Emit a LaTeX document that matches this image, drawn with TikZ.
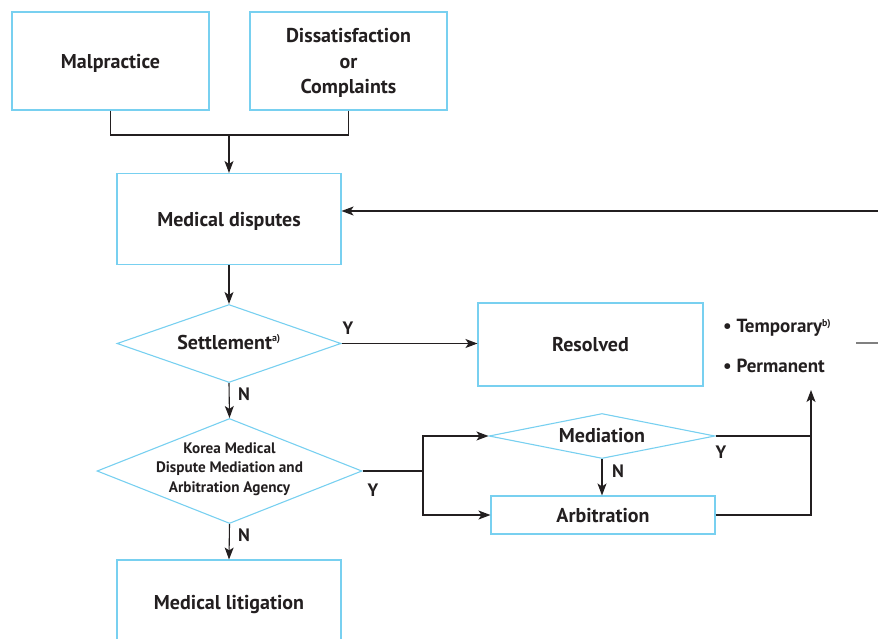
\documentclass[tikz,border=0pt]{standalone}
\usepackage{fontspec}
\setmainfont{PT Sans}
\usetikzlibrary{shapes.geometric,arrows.meta}
\definecolor{boxblue}{RGB}{120,208,240}
\definecolor{ink}{RGB}{35,31,32}
\tikzset{
  box/.style={draw=boxblue, line width=1.1pt, rectangle, inner sep=0pt, text=ink,
     font=\fontsize{20}{25.5}\selectfont\bfseries, align=center, text depth=0pt},
  dia/.style={draw=boxblue, line width=1.1pt, diamond, inner sep=0pt},
  lbl/.style={text=ink, font=\fontsize{20}{25}\selectfont\bfseries, inner sep=0pt, text depth=0pt},
  yn/.style={text=ink, font=\fontsize{18}{22}\selectfont\bfseries, inner sep=0pt},
  conn/.style={draw=ink, line width=1.1pt},
  arr/.style={conn, -{Stealth[length=12pt,width=9pt,inset=3pt]}},
}
\begin{document}
\begin{tikzpicture}[x=1pt,y=-1pt]
\useasboundingbox (0,0) rectangle (878,638);
\clip (0,0) rectangle (878,638);
% boxes
\node[box, minimum width=197pt, minimum height=98pt] (mal) at (110.5,61) {Malpractice};
\node[box, minimum width=197pt, minimum height=98pt] (dis) at (348.5,61) {Dissatisfaction\\or\\Complaints};
\node[box, minimum width=224pt, minimum height=91pt] (md) at (229,219) {Medical disputes};
\node[dia, minimum width=224pt, minimum height=78pt] (set) at (229,343.5) {};
\node[lbl] (settxt) at (229,342) {Settlement\textsuperscript{\fontsize{10}{10}\selectfont a)}};
\node[box, minimum width=225pt, minimum height=83pt] (res) at (590.5,344.5) {Resolved};
\node[lbl, anchor=west, align=left, font=\fontsize{19}{40}\selectfont\bfseries] (outc) at (723,346) {• Temporary\textsuperscript{\fontsize{10}{10}\selectfont b)}\\• Permanent};
\node[dia, minimum width=265pt, minimum height=105pt] (kma) at (229.5,471) {};
\node[text=ink, font=\fontsize{15.2}{19.5}\selectfont\bfseries, align=center, inner sep=0pt] (kmatxt) at (229.5,469) {Korea Medical\\Dispute Mediation and\\Arbitration Agency};
\node[dia, minimum width=226pt, minimum height=45pt] (med) at (602,436) {};
\node[lbl] (medtxt) at (602,435) {Mediation};
\node[box, minimum width=224pt, minimum height=38pt] (arb) at (603,515) {Arbitration};
\node[box, minimum width=224pt, minimum height=100pt] (lit) at (229,610) {};
\node[lbl] (littxt) at (229,602) {Medical litigation};
% coordinates
\coordinate (j) at (229,135);
\coordinate (rin) at (880,211);
\coordinate (jk) at (423,471);
\coordinate (up) at (811,390);
\coordinate (g1) at (856,343);
\coordinate (g2) at (880,343);
% connectors
\draw[conn] (mal.south) |- (j);
\draw[conn] (dis.south) |- (j);
\draw[arr] (j) -- (md.north);
\draw[arr] (rin) -- (md.east |- rin);
\draw[arr] (md.south) -- (set.north);
\draw[arr] (set.east) -- (set.east -| res.west);
\draw[arr] (set.south) -- (kma.north);
\draw[conn] (kma.east) -- (kma.east -| jk);
\draw[arr] (kma.east -| jk) |- (med.west);
\draw[arr] (kma.east -| jk) |- (arb.west);
\draw[arr] (med.south) -- (med.south |- arb.north);
\draw[conn] (med.east) -- (med.east -| up);
\draw[arr] (arb.east) -| (up);
\draw[arr] (kma.south) -- (lit.north);
\draw[draw=gray, line width=1.1pt] (g1) -- (g2);
% labels
\node[yn] (y1) at (348,328) {Y};
\node[yn] (n1) at (244,394) {N};
\node[yn] (y2) at (373,490) {Y};
\node[yn] (n2) at (618,471) {N};
\node[yn] (y3) at (721,452) {Y};
\node[yn] (n3) at (244,535) {N};
\end{tikzpicture}
\end{document}
